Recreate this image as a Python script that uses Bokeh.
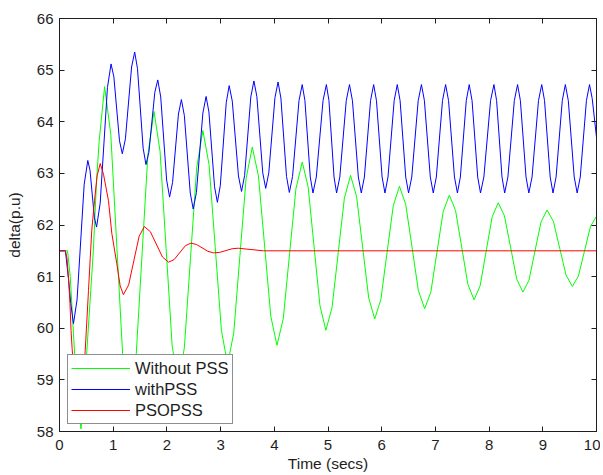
from bokeh.plotting import figure
from bokeh.models import Range1d, FixedTicker, LinearAxis, Legend, LegendItem
from bokeh.embed import file_html
from bokeh.resources import INLINE

# ---- data ----
x_ticks = [0, 1, 2, 3, 4, 5, 6, 7, 8, 9, 10]
y_ticks = [58, 59, 60, 61, 62, 63, 64, 65, 66]

series_names = ["Without PSS", "withPSS", "PSOPSS"]

t_green = [0.00, 0.15, 0.20, 0.26, 0.32, 0.40, 0.51, 0.63, 0.69, 0.74, 0.84,
           0.955, 1.07, 1.185, 1.30, 1.415, 1.53, 1.645, 1.76,
           1.8725, 1.985, 2.0975, 2.21, 2.325, 2.44, 2.555, 2.67,
           2.785, 2.90, 3.015, 3.13, 3.245, 3.36, 3.475, 3.59,
           3.705, 3.82, 3.935, 4.05, 4.1675, 4.285, 4.4025, 4.52,
           4.63, 4.74, 4.85, 4.96, 5.075, 5.19, 5.305, 5.42,
           5.5325, 5.645, 5.7575, 5.87, 5.985, 6.10, 6.215, 6.33,
           6.4475, 6.565, 6.6825, 6.80, 6.915, 7.03, 7.145, 7.26,
           7.375, 7.49, 7.605, 7.72, 7.8325, 7.945, 8.0575, 8.17,
           8.285, 8.40, 8.515, 8.63, 8.7425, 8.855, 8.9675, 9.08,
           9.1975, 9.315, 9.4325, 9.55, 9.6625, 9.775, 9.8875, 10.00]
v_green = [61.50, 61.50, 61.00, 59.90, 58.80, 58.05, 59.57, 61.50, 62.86, 63.64, 64.68,
           63.76, 61.54, 59.32, 58.40, 59.25, 61.30, 63.35, 64.20,
           63.43, 61.55, 59.67, 58.90, 59.62, 61.37, 63.11, 63.83,
           63.17, 61.57, 59.96, 59.30, 59.91, 61.41, 62.90, 63.51,
           62.95, 61.59, 60.23, 59.67, 60.19, 61.45, 62.70, 63.22,
           62.74, 61.59, 60.44, 59.96, 60.40, 61.46, 62.52, 62.96,
           62.55, 61.57, 60.59, 60.18, 60.56, 61.47, 62.37, 62.75,
           62.40, 61.57, 60.73, 60.38, 60.70, 61.48, 62.26, 62.58,
           62.28, 61.57, 60.85, 60.55, 60.82, 61.49, 62.16, 62.43,
           62.18, 61.57, 60.95, 60.70, 60.93, 61.50, 62.06, 62.29,
           62.07, 61.55, 61.03, 60.81, 61.01, 61.49, 61.97, 62.17]

t_blue = [0.00, 0.11, 0.17, 0.21, 0.26, 0.327, 0.46, 0.527, 0.568, 0.649, 0.69,
          0.7575, 0.8925, 0.96, 1.0125, 1.1175, 1.17, 1.2275, 1.3425, 1.40,
          1.4525, 1.5575, 1.61, 1.665, 1.775, 1.83, 1.885, 1.995, 2.05,
          2.105, 2.215, 2.27, 2.325, 2.435, 2.49, 2.55, 2.67, 2.73,
          2.7825, 2.8875, 2.94, 2.995, 3.105, 3.16, 3.2175, 3.3325, 3.39,
          3.4475, 3.5625, 3.62, 3.675, 3.785, 3.84, 3.8975, 4.0125, 4.07,
          4.1225, 4.2275, 4.28, 4.34, 4.46, 4.52,
          4.57, 4.67, 4.72, 4.7825, 4.9075, 4.97, 5.0175, 5.1125, 5.16,
          5.22, 5.34, 5.40, 5.455, 5.565, 5.62, 5.6775, 5.7925, 5.85,
          5.9025, 6.0075, 6.06, 6.1175, 6.2325, 6.29, 6.3425, 6.4475, 6.50,
          6.56, 6.68, 6.74, 6.795, 6.905, 6.96, 7.0175, 7.1325, 7.19,
          7.245, 7.355, 7.41, 7.465, 7.575, 7.63, 7.6825, 7.7875, 7.84,
          7.9025, 8.0275, 8.09, 8.14, 8.24, 8.29, 8.35, 8.47, 8.53,
          8.5825, 8.6875, 8.74, 8.80, 8.92, 8.98, 9.0325, 9.1375, 9.19,
          9.2475, 9.3625, 9.42, 9.475, 9.585, 9.64, 9.6975, 9.8125, 9.87,
          9.92, 10.00]
v_blue = [61.50, 61.50, 60.93, 60.48, 60.09, 60.55, 62.79, 63.25, 63.06, 62.15, 61.96,
          62.42, 64.66, 65.12, 64.87, 63.63, 63.38, 63.67, 65.06, 65.35,
          65.03, 63.49, 63.17, 63.41, 64.57, 64.81, 64.48, 62.87, 62.54,
          62.82, 64.15, 64.43, 64.12, 62.62, 62.31, 62.63, 64.17, 64.49,
          64.19, 62.74, 62.44, 62.77, 64.37, 64.70, 64.40, 62.95, 62.65,
          62.96, 64.48, 64.79, 64.49, 63.01, 62.71, 63.01, 64.47, 64.77,
          64.46, 62.94, 62.63, 62.94, 64.41, 64.72,
          64.41, 62.93, 62.62, 62.93, 64.41, 64.72, 64.41, 62.93, 62.62,
          62.93, 64.41, 64.72, 64.41, 62.93, 62.62, 62.93, 64.41, 64.72,
          64.41, 62.93, 62.62, 62.93, 64.41, 64.72, 64.41, 62.93, 62.62,
          62.93, 64.41, 64.72, 64.41, 62.93, 62.62, 62.93, 64.41, 64.72,
          64.41, 62.93, 62.62, 62.93, 64.41, 64.72, 64.41, 62.93, 62.62,
          62.93, 64.41, 64.72, 64.41, 62.93, 62.62, 62.93, 64.41, 64.72,
          64.41, 62.93, 62.62, 62.93, 64.41, 64.72, 64.41, 62.93, 62.62,
          62.93, 64.41, 64.72, 64.41, 62.93, 62.62, 62.93, 64.41, 64.72,
          64.45, 63.70]

t_red = [0.00, 0.11, 0.14, 0.17, 0.195, 0.215, 0.235, 0.27, 0.357, 0.44, 0.479,
         0.54, 0.572, 0.601, 0.652, 0.70, 0.758, 0.82, 0.912, 0.974, 1.067,
         1.13, 1.19, 1.2875, 1.4825, 1.58, 1.6925, 1.9175, 2.03, 2.135,
         2.345, 2.45, 2.555, 2.765, 2.87, 2.985, 3.215, 3.33, 3.80, 10.00]
v_red = [61.50, 61.50, 61.35, 60.93, 60.48, 59.96, 59.61, 59.10, 58.65, 59.10, 59.57,
         60.73, 61.35, 61.90, 62.47, 62.95, 63.19, 62.98, 62.47, 61.84, 61.25,
         60.82, 60.65, 60.84, 61.78, 61.97, 61.87, 61.38, 61.28, 61.33,
         61.60, 61.65, 61.62, 61.49, 61.46, 61.47, 61.54, 61.55, 61.50, 61.50]

# ---- figure ----
FONT = "Liberation Sans"
INK = "#1e1e1e"

p = figure(frame_width=537, frame_height=413,
           x_range=Range1d(0, 10), y_range=Range1d(58, 66),
           output_backend="svg", toolbar_location=None,
           min_border_left=59, min_border_top=18,
           min_border_right=4, min_border_bottom=42)
p.background_fill_color = "white"
p.border_fill_color = "white"
p.xgrid.visible = False
p.ygrid.visible = False
p.outline_line_color = INK
p.outline_line_width = 1


def style_axis(ax, ticks, show_labels=True):
    ax.ticker = FixedTicker(ticks=ticks)
    ax.axis_line_color = INK
    ax.major_tick_line_color = INK
    ax.major_tick_in = 5
    ax.major_tick_out = 0
    ax.minor_tick_line_color = None
    ax.major_label_text_font = FONT
    if show_labels:
        ax.major_label_text_color = INK
        ax.major_label_text_font_size = "15px"
    else:
        ax.major_label_text_color = None
        ax.major_label_text_font_size = "0px"
        ax.major_label_standoff = 0


style_axis(p.xaxis[0], x_ticks)
style_axis(p.yaxis[0], y_ticks)
p.xaxis[0].major_label_standoff = 8
p.yaxis[0].major_label_standoff = 6

p.xaxis.axis_label = "Time (secs)"
p.yaxis.axis_label = "delta(p.u)"
for ax in (p.xaxis[0], p.yaxis[0]):
    ax.axis_label_text_font = FONT
    ax.axis_label_text_font_size = "15.5px"
    ax.axis_label_text_font_style = "normal"
    ax.axis_label_text_color = INK
p.xaxis[0].axis_label_standoff = 2
p.yaxis[0].axis_label_standoff = 11

top_axis = LinearAxis()
style_axis(top_axis, x_ticks, show_labels=False)
p.add_layout(top_axis, "above")
right_axis = LinearAxis()
style_axis(right_axis, y_ticks, show_labels=False)
p.add_layout(right_axis, "right")

r_g = p.line(t_green, v_green, line_color="#00ff00", line_width=1)
r_b = p.line(t_blue, v_blue, line_color="#0000ff", line_width=1)
r_r = p.line(t_red, v_red, line_color="#ff0000", line_width=1)

legend = Legend(items=[LegendItem(label=series_names[0], renderers=[r_g]),
                       LegendItem(label=series_names[1], renderers=[r_b]),
                       LegendItem(label=series_names[2], renderers=[r_r])],
                location=(8, 7), margin=0, padding=3, spacing=1,
                glyph_width=59, glyph_height=20, label_height=20,
                label_standoff=5, label_text_font=FONT,
                label_text_font_size="16.5px", label_text_color=INK,
                border_line_color=INK, border_line_width=1,
                background_fill_color="white", background_fill_alpha=1.0)
p.add_layout(legend)

open("out.html", "w").write(file_html(p, INLINE))
